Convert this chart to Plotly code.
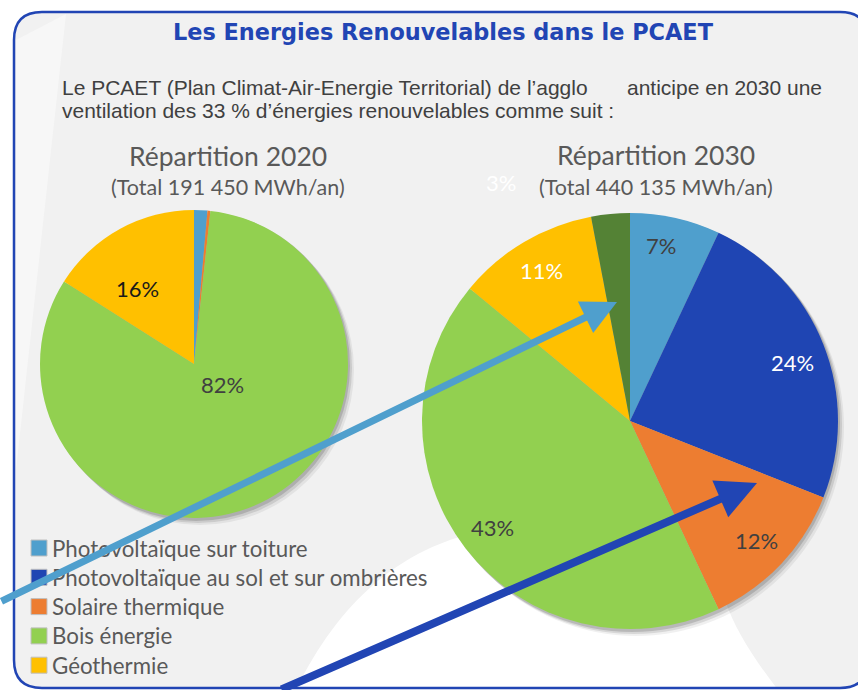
import plotly.graph_objects as go

W, H = 858, 690

# ---------------- data ----------------
categories = [
    "Photovoltaïque sur toiture",
    "Photovoltaïque au sol et sur ombrières",
    "Solaire thermique",
    "Bois énergie",
    "Géothermie",
]
other_label = "Autres"
values_2020 = [1.4, 0.0, 0.3, 82.3, 16.0]
values_2030 = [7, 24, 12, 43, 11, 3]
colors = ["#4f9fcd", "#1f45b3", "#ed7d31", "#92d050", "#ffc000"]
other_color = "#548235"

title_text = "Les Energies Renouvelables dans le PCAET"
intro_line1_a = "Le PCAET (Plan Climat-Air-Energie Territorial) de l’agglo"
intro_line1_b = "anticipe en 2030 une"
intro_line2 = "ventilation des 33 % d’énergies renouvelables comme suit :"
chart_titles = ["Répartition 2020", "Répartition 2030"]
chart_totals = ["(Total 191 450 MWh/an)", "(Total 440 135 MWh/an)"]

# ---------------- helpers ----------------
def pp(x, y):
    return f"{x / W:.5f},{1 - y / H:.5f}"

def path(cmds):
    out = []
    for c in cmds:
        if isinstance(c, str):
            out.append(c)
        else:
            out.append(pp(*c))
    return " ".join(out)

def pct(v, tot):
    return f"{round(100 * v / tot):.0f}%"

# pie geometry (pixels)
c20 = (194, 364); r20 = 154
c30 = (630, 421); r30 = 208

def dom(c, r):
    return dict(x=[(c[0] - r) / W, (c[0] + r) / W],
                y=[1 - (c[1] + r) / H, 1 - (c[1] - r) / H])

fig = go.Figure()
fig.add_trace(go.Pie(
    labels=categories, values=values_2020, sort=False, direction="clockwise",
    rotation=0, marker=dict(colors=colors, line=dict(width=0)),
    textinfo="none", showlegend=False, domain=dom(c20, r20),
    hovertemplate="%{label}: %{percent}<extra></extra>"))
fig.add_trace(go.Pie(
    labels=categories + [other_label], values=values_2030, sort=False,
    direction="clockwise", rotation=0,
    marker=dict(colors=colors + [other_color], line=dict(width=0)),
    textinfo="none", showlegend=False, domain=dom(c30, r30),
    hovertemplate="%{label}: %{percent}<extra></extra>"))

shapes = []
# box fill
x0, y0, x1, y1, rr = 14, 12, 868, 688, 28
box = path(["M", (x0 + rr, y0), "L", (x1 - rr, y0), "Q", (x1, y0), (x1, y0 + rr),
            "L", (x1, y1 - rr), "Q", (x1, y1), (x1 - rr, y1),
            "L", (x0 + rr, y1), "Q", (x0, y1), (x0, y1 - rr),
            "L", (x0, y0 + rr), "Q", (x0, y0), (x0 + rr, y0), "Z"])
shapes.append(dict(type="path", xref="paper", yref="paper", path=box,
                   fillcolor="#f1f1f1", line=dict(width=0), layer="below"))
# subtle light diagonal on the left
shapes.append(dict(type="path", xref="paper", yref="paper",
                   path=path(["M", (16, 40), "L", (66, 14), "L", (16, 470), "Z"]),
                   fillcolor="#f7f7f7", line=dict(width=0), layer="below"))
# white swoosh lower right
shapes.append(dict(type="path", xref="paper", yref="paper",
                   path=path(["M", (296, 690), "C", (340, 600), (400, 552), (470, 534),
                              "L", (560, 540), "L", (725, 600),
                              "C", (735, 630), (755, 660), (778, 690), "Z"]),
                   fillcolor="#ffffff", line=dict(width=0), layer="below"))
# pie shadows
for (cx, cy), r in [(c20, r20), (c30, r30)]:
    for off, a in [(6, 0.06), (4, 0.10), (2, 0.14)]:
        shapes.append(dict(type="circle", xref="paper", yref="paper",
                           x0=(cx - r + off) / W, x1=(cx + r + off) / W,
                           y0=1 - (cy + r + off + 1) / H, y1=1 - (cy - r + off - 1) / H,
                           fillcolor=f"rgba(0,0,0,{a})", line=dict(width=0), layer="below"))
# box border
shapes.append(dict(type="path", xref="paper", yref="paper", path=box,
                   fillcolor="rgba(0,0,0,0)", line=dict(width=2.5, color="#2145b4"),
                   layer="below"))

# custom legend
leg_x = 31; leg_y0 = 548; leg_dy = 29.3; sq = 16
ann = []
for i, (lab, col) in enumerate(zip(categories, colors)):
    yc = leg_y0 + i * leg_dy
    shapes.append(dict(type="rect", xref="paper", yref="paper",
                       x0=leg_x / W, x1=(leg_x + sq) / W,
                       y0=1 - (yc + sq / 2) / H, y1=1 - (yc - sq / 2) / H,
                       fillcolor=col, line=dict(width=1, color="#bfbfbf"), layer="above"))
    ann.append(dict(x=(leg_x + sq + 3) / W, y=1 - yc / H, xref="paper", yref="paper",
                    text=lab, showarrow=False, xanchor="left", yanchor="middle",
                    font=dict(family="Lato", size=22.3, color="#595959")))

def txt(x, y, s, size, color, family="Lato", xanchor="center", bold=False):
    ann.append(dict(x=x / W, y=1 - y / H, xref="paper", yref="paper",
                    text=f"<b>{s}</b>" if bold else s, showarrow=False,
                    xanchor=xanchor, yanchor="middle",
                    font=dict(family=family, size=size, color=color)))

txt(443, 32, title_text, 22.4, "#2145b4", family="DejaVu Sans", bold=True)
txt(60, 88, intro_line1_a, 21, "#404040", family="Liberation Sans", xanchor="left")
txt(824, 88, intro_line1_b, 21, "#404040", family="Liberation Sans", xanchor="right")
txt(60, 111, intro_line2, 21, "#404040", family="Liberation Sans", xanchor="left")
txt(228, 156, chart_titles[0], 26.5, "#595959")
txt(228, 187, chart_totals[0], 21.5, "#595959")
txt(656, 155, chart_titles[1], 26.5, "#595959")
txt(656, 187, chart_totals[1], 21.5, "#595959")

# slice percentage labels
t20 = sum(values_2020); t30 = sum(values_2030)
LS = 22
txt(137, 288, pct(values_2020[4], t20), LS, "#1a1a1a")
txt(222, 384, pct(values_2020[3], t20), LS, "#404040")
txt(661, 246, pct(values_2030[0], t30), LS, "#404040")
txt(792, 362, pct(values_2030[1], t30), LS, "#ffffff")
txt(756, 540, pct(values_2030[2], t30), LS, "#404040")
txt(492, 527, pct(values_2030[3], t30), LS, "#404040")
txt(541, 270, pct(values_2030[4], t30), LS, "#ffffff")
txt(501, 182, pct(values_2030[5], t30), LS, "#ffffff")

# arrows
def arrow(tail, head, color, width):
    ann.append(dict(x=head[0] / W, y=1 - head[1] / H, xref="paper", yref="paper",
                    ax=tail[0] - head[0], ay=tail[1] - head[1], axref="pixel", ayref="pixel",
                    text="", showarrow=True, arrowhead=2, arrowsize=1.0,
                    arrowwidth=width, arrowcolor=color, standoff=0, startstandoff=0))

arrow((-4, 602), (617, 302), "#4f9fcd", 7)
arrow((280, 698), (757, 483), "#2145b4", 8)

fig.update_layout(width=W, height=H, margin=dict(l=0, r=0, t=0, b=0),
                  paper_bgcolor="#ffffff", plot_bgcolor="#ffffff",
                  shapes=shapes, annotations=ann, showlegend=False)
fig.write_html("out.html", config={"displayModeBar": False},
               post_script="document.body.style.margin='0px';document.body.style.overflow='hidden';")
